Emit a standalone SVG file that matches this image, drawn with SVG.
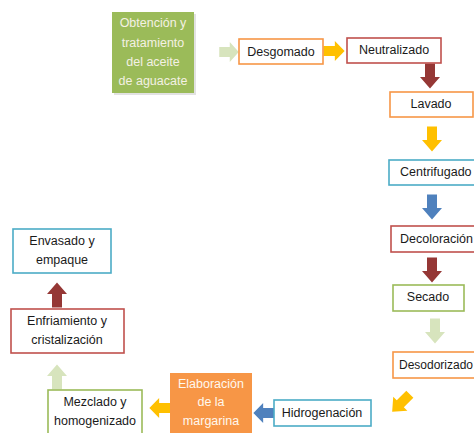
<svg xmlns="http://www.w3.org/2000/svg" width="474" height="433" viewBox="0 0 474 433">
<style>
.box{fill:#ffffff;stroke-width:1.6}
.o{stroke:#F79646}.r{stroke:#C0504D}.b{stroke:#4BACC6}.g{stroke:#9BBB59}
text{font-family:"Liberation Sans",Arial,sans-serif;font-size:12.5px;fill:#1a1a1a}
.c{text-anchor:middle}
.w{fill:#f4f1e4}
</style>
<defs>
<path id="arr" d="M-5,-12.5 H5 V1 H10 L0,12.5 L-10,1 H-5 Z"/>
</defs>
<g id="connectors">
<use href="#arr" fill="#D7E4BD" transform="translate(229,52) rotate(-90) scale(1,0.78)"/>
<use href="#arr" fill="#FFC000" transform="translate(334,51) rotate(-90) scale(1,0.85)"/>
<use href="#arr" fill="#953735" transform="translate(430,76)"/>
<use href="#arr" fill="#FFC000" transform="translate(432,139)"/>
<use href="#arr" fill="#4F81BD" transform="translate(432,207)"/>
<use href="#arr" fill="#953735" transform="translate(432,270)"/>
<use href="#arr" fill="#D7E4BD" transform="translate(435,331)"/>
<use href="#arr" fill="#FFC000" transform="translate(401,403) rotate(45)"/>
<use href="#arr" fill="#4F81BD" transform="translate(264,413) rotate(90) scale(1,0.85)"/>
<use href="#arr" fill="#FFC000" transform="translate(160,408) rotate(90) scale(1,0.85)"/>
<use href="#arr" fill="#D7E4BD" transform="translate(57,377)  rotate(180)"/>
<use href="#arr" fill="#953735" transform="translate(57,295) rotate(180)"/>
</g>
<g id="obtencion">
<rect x="114" y="14" width="82" height="81" fill="#cfcfcf" opacity="0.6"/>
<rect x="112" y="12" width="82" height="81" fill="#9BBB59"/>
<text class="c w" x="153" y="27">Obtención y</text>
<text class="c w" x="153" y="47">tratamiento</text>
<text class="c w" x="153" y="66">del aceite</text>
<text class="c w" x="153" y="85">de aguacate</text>
</g>
<g id="desgomado"><rect class="box o" x="239" y="39" width="84" height="25"/><text class="c" x="281" y="56">Desgomado</text></g>
<g id="neutralizado"><rect class="box r" x="347" y="38" width="94" height="25"/><text class="c" x="394" y="54">Neutralizado</text></g>
<g id="lavado"><rect class="box o" x="390" y="92" width="83" height="25"/><text class="c" x="431" y="108">Lavado</text></g>
<g id="centrifugado"><rect class="box b" x="389" y="160" width="90" height="25"/><text x="400" y="176">Centrifugado</text></g>
<g id="decoloracion"><rect class="box r" x="391" y="226" width="90" height="26"/><text x="400" y="243">Decoloración</text></g>
<g id="secado"><rect class="box g" x="393" y="285" width="71" height="26"/><text class="c" x="428" y="301">Secado</text></g>
<g id="desodorizado"><rect class="box o" x="393" y="352" width="90" height="26"/><text x="399" y="369" style="font-size:12px">Desodorizado</text></g>
<g id="hidrogenacion"><rect class="box b" x="274" y="400" width="97" height="26"/><text class="c" x="322" y="417">Hidrogenación</text></g>
<g id="elaboracion">
<rect x="170" y="373" width="82" height="70" fill="#F79646"/>
<text class="c" x="211" y="388" style="fill:#fff8ee">Elaboración</text>
<text class="c" x="211" y="406" style="fill:#fff8ee">de la</text>
<text class="c" x="211" y="425" style="fill:#fff8ee">margarina</text>
</g>
<g id="mezclado"><rect class="box g" x="48" y="390" width="94" height="50"/><text class="c" x="95" y="406">Mezclado y</text><text class="c" x="95" y="425">homogenizado</text></g>
<g id="enfriamiento"><rect class="box r" x="11" y="309" width="113" height="44"/><text class="c" x="67" y="325">Enfriamiento y</text><text class="c" x="67" y="344">cristalización</text></g>
<g id="envasado"><rect class="box b" x="13" y="229" width="98" height="44"/><text class="c" x="62" y="245">Envasado y</text><text class="c" x="62" y="264">empaque</text></g>
</svg>
